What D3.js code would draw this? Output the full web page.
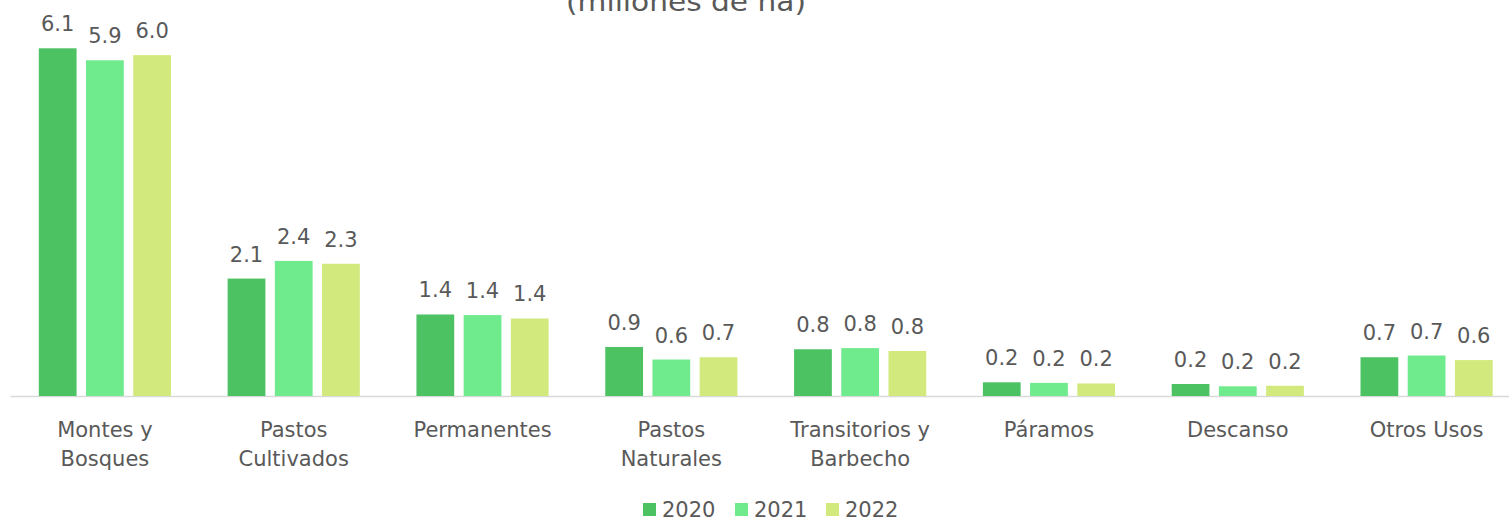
<!DOCTYPE html>
<html>
<head>
<meta charset="utf-8">
<script src="https://cdn.jsdelivr.net/npm/d3@7"></script>
<style>
  html, body { margin: 0; padding: 0; background: #fff; }
  svg { display: block; }
  text { font-family: "Century Gothic", "DejaVu Sans", sans-serif; fill: #595959; }
</style>
</head>
<body>
<svg id="chart" width="1509" height="520"></svg>
<script>
const categories = [
  ["Montes y", "Bosques"],
  ["Pastos", "Cultivados"],
  ["Permanentes"],
  ["Pastos", "Naturales"],
  ["Transitorios y", "Barbecho"],
  ["Páramos"],
  ["Descanso"],
  ["Otros Usos"]
];
const years = ["2020", "2021", "2022"];
const values2020 = [6.10, 2.06, 1.43, 0.86, 0.82, 0.24, 0.21, 0.68];
const values2021 = [5.89, 2.37, 1.42, 0.64, 0.84, 0.23, 0.17, 0.71];
const values2022 = [5.98, 2.32, 1.36, 0.68, 0.79, 0.22, 0.18, 0.63];
const colors = ["#4CC263", "#6FEA8D", "#D2EA7D"];
const title = "(millones de ha)";

const series = [values2020, values2021, values2022];
const svg = d3.select("#chart");
const catKeys = categories.map(c => c.join(" "));

const x0 = d3.scaleBand().domain(catKeys).range([10.5, 1521]).paddingInner(0.3).paddingOuter(0.15);
const x1 = d3.scaleBand().domain(years).range([0, x0.bandwidth()]).paddingInner(0.2);
const y = d3.scaleLinear().domain([0, 7]).range([396, 396 - 7 * 57]);

// title (partly cut off at top)
svg.append("text").attr("x", 686).attr("y", 11).attr("text-anchor", "middle")
  .attr("font-size", 27).attr("textLength", 240).attr("lengthAdjust", "spacingAndGlyphs")
  .text(title);

// axis line
svg.append("line").attr("x1", 10.5).attr("x2", 1509).attr("y1", y(0) + 0.5).attr("y2", y(0) + 0.5)
  .attr("stroke", "#d9d9d9").attr("stroke-width", 1.5);

const groups = svg.selectAll("g.grp").data(catKeys).join("g").attr("class", "grp")
  .attr("transform", d => `translate(${x0(d)},0)`);

groups.each(function(cat, i) {
  const g = d3.select(this);
  years.forEach((yr, j) => {
    const v = series[j][i];
    g.append("rect").attr("x", x1(yr)).attr("width", x1.bandwidth())
      .attr("y", y(v)).attr("height", y(0) - y(v)).attr("fill", colors[j]);
    g.append("text").attr("x", x1(yr) + x1.bandwidth() / 2).attr("y", y(v) - 17)
      .attr("text-anchor", "middle").attr("font-size", 21).text(d3.format(".1f")(v));
  });
  const lines = categories[i];
  lines.forEach((ln, k) => {
    g.append("text").attr("x", x0.bandwidth() / 2).attr("y", 437 + k * 29)
      .attr("text-anchor", "middle").attr("font-size", 21).text(ln);
  });
});

// legend
const legendX = [643, 735, 826];
years.forEach((yr, j) => {
  svg.append("rect").attr("x", legendX[j]).attr("y", 503).attr("width", 13).attr("height", 13).attr("fill", colors[j]);
  svg.append("text").attr("x", legendX[j] + 19).attr("y", 517).attr("font-size", 21).text(yr);
});
</script>
</body>
</html>
